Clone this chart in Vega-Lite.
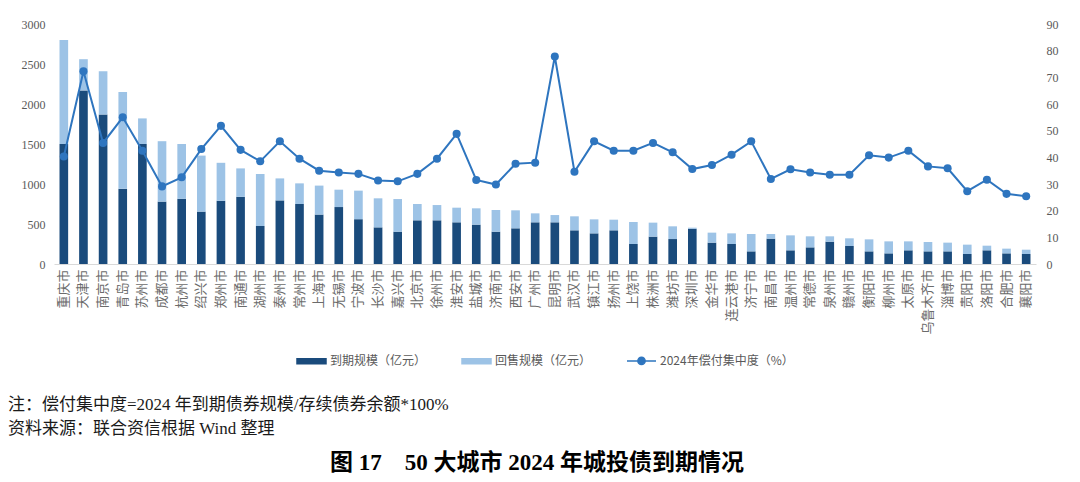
{
  "$schema": "https://vega.github.io/schema/vega-lite/v6.json",
  "background": "white",
  "padding": {"left": 8, "top": 18, "right": 5, "bottom": 5},
  "title": {
    "text": "图 17　50 大城市 2024 年城投债到期情况",
    "orient": "bottom",
    "anchor": "middle",
    "font": "Liberation Serif, Noto Sans CJK SC",
    "fontSize": 23,
    "fontWeight": "bold",
    "color": "#000000",
    "offset": 15
  },
  "resolve": {"legend": {"color": "independent"}},
  "vconcat": [
    {
      "width": 982,
      "height": 240,
      "title": {
        "text": ["注：偿付集中度=2024 年到期债券规模/存续债券余额*100%", "资料来源：联合资信根据 Wind 整理"],
        "orient": "bottom",
        "anchor": "start",
        "font": "Liberation Serif, Noto Sans CJK SC",
        "fontSize": 17,
        "fontWeight": "normal",
        "color": "#1a1a1a",
        "lineHeight": 24,
        "offset": 29
      },
      "data": {
        "values": [
          {"city": "重庆市", "到期规模（亿元）": 1500, "回售规模（亿元）": 1300, "ratio": 40.3},
          {"city": "天津市", "到期规模（亿元）": 2170, "回售规模（亿元）": 390, "ratio": 72.3},
          {"city": "南京市", "到期规模（亿元）": 1870, "回售规模（亿元）": 540, "ratio": 45.4},
          {"city": "青岛市", "到期规模（亿元）": 940, "回售规模（亿元）": 1210, "ratio": 55.0},
          {"city": "苏州市", "到期规模（亿元）": 1500, "回售规模（亿元）": 320, "ratio": 42.5},
          {"city": "成都市", "到期规模（亿元）": 780, "回售规模（亿元）": 755, "ratio": 29.1},
          {"city": "杭州市", "到期规模（亿元）": 815, "回售规模（亿元）": 685, "ratio": 32.5},
          {"city": "绍兴市", "到期规模（亿元）": 655, "回售规模（亿元）": 700, "ratio": 43.1},
          {"city": "郑州市", "到期规模（亿元）": 790, "回售规模（亿元）": 475, "ratio": 51.8},
          {"city": "南通市", "到期规模（亿元）": 840, "回售规模（亿元）": 355, "ratio": 42.8},
          {"city": "湖州市", "到期规模（亿元）": 475, "回售规模（亿元）": 650, "ratio": 38.5},
          {"city": "泰州市", "到期规模（亿元）": 795, "回售规模（亿元）": 275, "ratio": 46.0},
          {"city": "常州市", "到期规模（亿元）": 750, "回售规模（亿元）": 258, "ratio": 39.5},
          {"city": "上海市", "到期规模（亿元）": 618, "回售规模（亿元）": 362, "ratio": 35.0},
          {"city": "无锡市", "到期规模（亿元）": 712, "回售规模（亿元）": 217, "ratio": 34.3},
          {"city": "宁波市", "到期规模（亿元）": 560, "回售规模（亿元）": 357, "ratio": 33.8},
          {"city": "长沙市", "到期规模（亿元）": 458, "回售规模（亿元）": 363, "ratio": 31.3},
          {"city": "嘉兴市", "到期规模（亿元）": 404, "回售规模（亿元）": 408, "ratio": 31.0},
          {"city": "北京市", "到期规模（亿元）": 546, "回售规模（亿元）": 204, "ratio": 33.8},
          {"city": "徐州市", "到期规模（亿元）": 546, "回售规模（亿元）": 191, "ratio": 39.5},
          {"city": "淮安市", "到期规模（亿元）": 521, "回售规模（亿元）": 183, "ratio": 48.8},
          {"city": "盐城市", "到期规模（亿元）": 492, "回售规模（亿元）": 204, "ratio": 31.5},
          {"city": "济南市", "到期规模（亿元）": 404, "回售规模（亿元）": 271, "ratio": 29.8},
          {"city": "西安市", "到期规模（亿元）": 446, "回售规模（亿元）": 225, "ratio": 37.6},
          {"city": "广州市", "到期规模（亿元）": 521, "回售规模（亿元）": 112, "ratio": 38.0},
          {"city": "昆明市", "到期规模（亿元）": 521, "回售规模（亿元）": 91, "ratio": 77.8},
          {"city": "武汉市", "到期规模（亿元）": 421, "回售规模（亿元）": 175, "ratio": 34.6},
          {"city": "镇江市", "到期规模（亿元）": 383, "回售规模（亿元）": 175, "ratio": 46.0},
          {"city": "扬州市", "到期规模（亿元）": 421, "回售规模（亿元）": 133, "ratio": 42.5},
          {"city": "上饶市", "到期规模（亿元）": 250, "回售规模（亿元）": 275, "ratio": 42.5},
          {"city": "株洲市", "到期规模（亿元）": 342, "回售规模（亿元）": 175, "ratio": 45.4},
          {"city": "潍坊市", "到期规模（亿元）": 312, "回售规模（亿元）": 159, "ratio": 41.9},
          {"city": "深圳市", "到期规模（亿元）": 440, "回售规模（亿元）": 14, "ratio": 35.6},
          {"city": "金华市", "到期规模（亿元）": 267, "回售规模（亿元）": 125, "ratio": 37.1},
          {"city": "连云港市", "到期规模（亿元）": 250, "回售规模（亿元）": 133, "ratio": 41.0},
          {"city": "济宁市", "到期规模（亿元）": 158, "回售规模（亿元）": 217, "ratio": 46.0},
          {"city": "南昌市", "到期规模（亿元）": 317, "回售规模（亿元）": 58, "ratio": 31.9},
          {"city": "温州市", "到期规模（亿元）": 171, "回售规模（亿元）": 187, "ratio": 35.5},
          {"city": "常德市", "到期规模（亿元）": 208, "回售规模（亿元）": 138, "ratio": 34.3},
          {"city": "泉州市", "到期规模（亿元）": 279, "回售规模（亿元）": 67, "ratio": 33.5},
          {"city": "赣州市", "到期规模（亿元）": 225, "回售规模（亿元）": 96, "ratio": 33.5},
          {"city": "衡阳市", "到期规模（亿元）": 158, "回售规模（亿元）": 150, "ratio": 40.8},
          {"city": "柳州市", "到期规模（亿元）": 133, "回售规模（亿元）": 150, "ratio": 39.9},
          {"city": "太原市", "到期规模（亿元）": 171, "回售规模（亿元）": 112, "ratio": 42.5},
          {"city": "乌鲁木齐市", "到期规模（亿元）": 158, "回售规模（亿元）": 117, "ratio": 36.6},
          {"city": "淄博市", "到期规模（亿元）": 158, "回售规模（亿元）": 109, "ratio": 35.9},
          {"city": "贵阳市", "到期规模（亿元）": 125, "回售规模（亿元）": 117, "ratio": 27.3},
          {"city": "洛阳市", "到期规模（亿元）": 171, "回售规模（亿元）": 58, "ratio": 31.6},
          {"city": "合肥市", "到期规模（亿元）": 133, "回售规模（亿元）": 59, "ratio": 26.3},
          {"city": "襄阳市", "到期规模（亿元）": 125, "回售规模（亿元）": 54, "ratio": 25.4}
        ]
      },
      "encoding": {
        "x": {
          "field": "city",
          "type": "nominal",
          "sort": null,
          "scale": {"paddingInner": 0.56, "paddingOuter": 0.28},
          "axis": {
            "title": null,
            "labelAngle": 270,
            "labelFont": "Noto Sans CJK SC",
            "labelFontSize": 13,
            "labelColor": "#6b6b6b",
            "labelPadding": 5,
            "domain": true,
            "domainColor": "#D9D9D9",
            "domainWidth": 1,
            "ticks": false
          }
        }
      },
      "layer": [
        {
          "transform": [{"fold": ["到期规模（亿元）", "回售规模（亿元）"], "as": ["series", "amount"]}],
          "mark": {"type": "bar"},
          "encoding": {
            "y": {
              "field": "amount",
              "type": "quantitative",
              "stack": "zero",
              "scale": {"domain": [0, 3000], "nice": false},
              "axis": {
                "title": null,
                "format": "d",
                "values": [0, 500, 1000, 1500, 2000, 2500, 3000],
                "minExtent": 46,
                "maxExtent": 46,
                "labelPadding": 9
              }
            },
            "order": {"field": "series", "sort": "ascending"},
            "color": {
              "field": "series",
              "type": "nominal",
              "scale": {
                "domain": ["到期规模（亿元）", "回售规模（亿元）", "2024年偿付集中度（%）"],
                "range": ["#1A4B7C", "#9DC3E6", "#2E75BF"]
              },
              "legend": {
                "title": null,
                "orient": "bottom",
                "direction": "horizontal",
                "symbolSize": 841,
                "labelFont": "Noto Sans CJK SC",
                "labelFontSize": 12,
                "labelColor": "#595959",
                "labelOffset": 3,
                "columnPadding": 32,
                "offset": 10,
                "encode": {
                  "symbols": {
                    "update": {
                      "shape": {"signal": "datum.value === '2024年偿付集中度（%）' ? 'M-1,0H1M-0.25,0A0.25,0.25 0 1,0 0.25,0A0.25,0.25 0 1,0 -0.25,0' : 'M-1,-0.17H1V0.17H-1Z'"},
                      "fill": {"scale": "color", "field": "value"},
                      "stroke": {"scale": "color", "field": "value"},
                      "strokeWidth": {"value": 1.5},
                      "opacity": {"value": 1},
                      "fillOpacity": {"value": 1},
                      "strokeOpacity": {"value": 1}
                    }
                  }
                }
              }
            }
          }
        },
        {
          "mark": {"type": "line", "strokeWidth": 2, "point": {"filled": true, "size": 65}},
          "encoding": {
            "y": {
              "field": "ratio",
              "type": "quantitative",
              "scale": {"domain": [0, 90], "nice": false},
              "axis": {
                "title": null,
                "orient": "right",
                "values": [0, 10, 20, 30, 40, 50, 60, 70, 80, 90],
                "minExtent": 30,
                "labelPadding": 10
              }
            },
            "color": {"datum": "2024年偿付集中度（%）"}
          }
        }
      ],
      "resolve": {"scale": {"y": "independent"}}
    }
  ],
  "config": {
    "view": {"stroke": null},
    "axis": {
      "grid": false,
      "ticks": false,
      "domain": false,
      "labelColor": "#595959",
      "labelFont": "Liberation Serif",
      "labelFontSize": 12
    },
    "legend": {"layout": {"bottom": {"anchor": "middle"}}}
  }
}
